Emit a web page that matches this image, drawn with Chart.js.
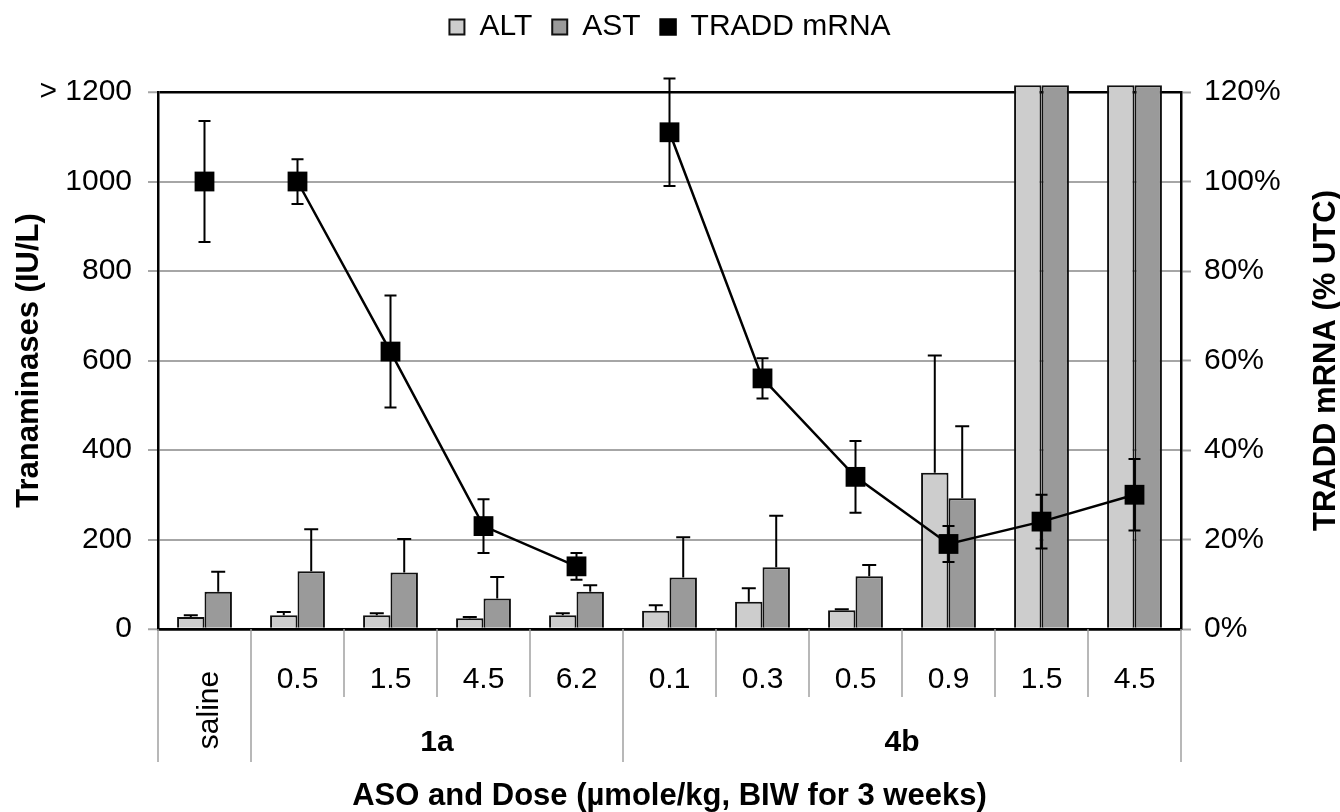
<!DOCTYPE html>
<html>
<head>
<meta charset="utf-8">
<script src="https://cdn.jsdelivr.net/npm/chart.js@4.4.1/dist/chart.umd.min.js"></script>
<style>
    html, body { margin: 0; padding: 0; background: #ffffff; }
    #wrap { width: 1340px; height: 812px; }
</style>
</head>
<body>
<div id="wrap"><canvas id="chart"></canvas></div>
<script>
// dose per column, and the ASO group each column belongs to
const doses = ["", "0.5", "1.5", "4.5", "6.2", "0.1", "0.3", "0.5", "0.9", "1.5", "4.5"];
const groups = ["saline", "1a", "1a", "1a", "1a", "4b", "4b", "4b", "4b", "4b", "4b"];

// transaminases, IU/L (1215 = off scale, shown as > 1200)
const altValues = [27, 31, 31, 24, 31, 41, 61, 42, 349, 1215, 1215];
const altErrors = [4, 7, 4, 3, 4, 12, 30, 2, 262, null, null];
const astValues = [83, 129, 126, 68, 83, 115, 138, 118, 292, 1215, 1215];
const astErrors = [45, 94, 75, 48, 15, 90, 115, 25, 161, null, null];

// TRADD mRNA, % of untreated control
const traddValues = [100, 100, 62, 23, 14, 111, 56, 34, 19, 24, 30];
const traddErrors = [13.5, 5, 12.5, 6, 3, 12, 4.5, 8, 4, 6, 8];

const leftTickLabels = ["0", "200", "400", "600", "800", "1000", "> 1200"];
const rightTickLabels = ["0%", "20%", "40%", "60%", "80%", "100%", "120%"];

const leftTitle = "Tranaminases (IU/L)";
const rightTitle = "TRADD mRNA (% UTC)";
const bottomTitle = "ASO and Dose (\u00b5mole/kg, BIW for 3 weeks)";

const FONT = "'Liberation Sans', Arial, Helvetica, sans-serif";
const GRID_COLOR = "#a6a6a6";
const SEPARATOR_COLOR = "#a0a0a0";

Chart.defaults.font.family = FONT;
Chart.defaults.color = "#000";

// error whiskers, bottom table (separators + group names), right axis title
const chartExtras = {
    id: "chartExtras",
    beforeDatasetDraw(chart, args) {
        const ds = chart.data.datasets[args.index];
        if (ds.type === "line") {
            chartExtras.drawErrors(chart, args.index, true, 6);
        }
    },
    afterDatasetDraw(chart, args) {
        const ds = chart.data.datasets[args.index];
        if (ds.type !== "line") {
            chartExtras.drawErrors(chart, args.index, false, 7);
        }
    },
    drawErrors(chart, index, bothSides, cap) {
        const ds = chart.data.datasets[index];
        const meta = chart.getDatasetMeta(index);
        const yScale = chart.scales[ds.yAxisID];
        const area = chart.chartArea;
        const ctx = chart.ctx;
        ctx.save();
        ctx.beginPath();
        ctx.rect(area.left, area.top - 16, area.right - area.left, area.bottom - area.top + 16);
        ctx.clip();
        ctx.strokeStyle = "#000";
        ctx.lineWidth = 2;
        ds.errors.forEach((err, i) => {
            if (err == null) return;
            const x = meta.data[i].x;
            const v = ds.data[i];
            const yTop = yScale.getPixelForValue(v + err);
            const yBottom = bothSides ? yScale.getPixelForValue(v - err) : yScale.getPixelForValue(v);
            ctx.beginPath();
            ctx.moveTo(x, yTop);
            ctx.lineTo(x, yBottom);
            ctx.moveTo(x - cap, yTop);
            ctx.lineTo(x + cap, yTop);
            if (bothSides) {
                ctx.moveTo(x - cap, yBottom);
                ctx.lineTo(x + cap, yBottom);
            }
            ctx.stroke();
        });
        ctx.restore();
    },
    afterDraw(chart) {
        const ctx = chart.ctx;
        const area = chart.chartArea;
        const xScale = chart.scales.x;
        const n = doses.length;
        const half = (xScale.getPixelForValue(1) - xScale.getPixelForValue(0)) / 2;

        ctx.save();
        ctx.strokeStyle = SEPARATOR_COLOR;
        ctx.lineWidth = 1.5;
        for (let i = 0; i <= n; i++) {
            const px = i === 0 ? xScale.getPixelForValue(0) - half : xScale.getPixelForValue(i - 1) + half;
            const groupEdge = i === 0 || i === n || groups[i] !== groups[i - 1];
            ctx.beginPath();
            ctx.moveTo(px, area.bottom);
            ctx.lineTo(px, area.bottom + (groupEdge ? 133 : 68));
            ctx.stroke();
        }

        // group names
        ctx.fillStyle = "#000";
        ctx.textAlign = "center";
        ctx.textBaseline = "middle";
        let start = 0;
        for (let i = 1; i <= n; i++) {
            if (i < n && groups[i] === groups[start]) continue;
            const x0 = xScale.getPixelForValue(start) - half;
            const x1 = xScale.getPixelForValue(i - 1) + half;
            const cx = (x0 + x1) / 2;
            if (i - start === 1) {
                ctx.save();
                ctx.font = "30px " + FONT;
                ctx.translate(cx + 5, area.bottom + 81);
                ctx.rotate(-Math.PI / 2);
                ctx.fillText(groups[start], 0, 0);
                ctx.restore();
            } else {
                ctx.font = "bold 30px " + FONT;
                ctx.fillText(groups[start], cx, area.bottom + 114);
            }
            start = i;
        }

        // right axis title, reading bottom to top like the left one
        ctx.font = "bold 31px " + FONT;
        ctx.translate(1326, (area.top + area.bottom) / 2);
        ctx.rotate(-Math.PI / 2);
        ctx.fillText(rightTitle, 0, 0);
        ctx.restore();
    },
};

const canvas = document.getElementById("chart");
const chart = new Chart(canvas, {
    type: "bar",
    data: {
        labels: doses,
        datasets: [
            {
                label: "ALT",
                data: altValues,
                errors: altErrors,
                yAxisID: "y",
                order: 1,
                backgroundColor: "#cdcdcd",
                borderColor: "#111",
                borderWidth: 2,
                categoryPercentage: 0.59,
                barPercentage: 1.0,
                clip: { left: 0, top: 8, right: 0, bottom: 0 },
            },
            {
                label: "AST",
                data: astValues,
                errors: astErrors,
                yAxisID: "y",
                order: 1,
                backgroundColor: "#9a9a9a",
                borderColor: "#111",
                borderWidth: 2,
                categoryPercentage: 0.59,
                barPercentage: 1.0,
                clip: { left: 0, top: 8, right: 0, bottom: 0 },
            },
            {
                type: "line",
                label: "TRADD mRNA",
                data: traddValues,
                errors: traddErrors,
                yAxisID: "y2",
                order: 0,
                borderColor: "#000",
                backgroundColor: "#000",
                borderWidth: 2.5,
                pointStyle: "rect",
                pointRadius: 14,
                pointBackgroundColor: "#000",
                pointBorderColor: "#000",
                pointBorderWidth: 0,
                segment: {
                    borderColor: (ctx) =>
                        groups[ctx.p0DataIndex] !== groups[ctx.p1DataIndex] ? "rgba(0,0,0,0)" : "#000",
                },
            },
        ],
    },
    options: {
        responsive: true,
        maintainAspectRatio: false,
        animation: false,
        layout: {
            padding: { top: -8, left: 0, right: 0, bottom: 0 },
        },
        plugins: {
            legend: {
                position: "top",
                labels: {
                    boxWidth: 15,
                    boxHeight: 15,
                    padding: 20,
                    color: "#000",
                    font: { size: 30 },
                    sort: (a, b) => a.datasetIndex - b.datasetIndex,
                },
            },
            subtitle: {
                // empty spacer between the legend and the plot
                display: true,
                text: "",
                weight: 500,
                padding: { top: 0, bottom: 0 },
                font: { size: 40, lineHeight: 1 },
            },
            tooltip: { enabled: false },
        },
        scales: {
            x: {
                type: "category",
                offset: true,
                grid: { display: false },
                border: { display: true, color: "#000", width: 2.5 },
                ticks: {
                    autoSkip: false,
                    maxRotation: 0,
                    padding: 25,
                    color: "#000",
                    font: { size: 30 },
                },
                title: {
                    display: true,
                    text: bottomTitle,
                    color: "#000",
                    padding: { top: 0, bottom: 0 },
                    font: { size: 31, weight: "bold", lineHeight: 1 },
                },
                afterFit: (scale) => { scale.height = 183; },
            },
            y: {
                type: "linear",
                position: "left",
                min: 0,
                max: 1200,
                ticks: {
                    stepSize: 200,
                    padding: 16,
                    color: "#000",
                    font: { size: 30 },
                    callback: (value, index) => leftTickLabels[index],
                },
                grid: {
                    color: (ctx) => (ctx.tick.value === 0 || ctx.tick.value === 1200 ? "#000" : GRID_COLOR),
                    lineWidth: (ctx) => (ctx.tick.value === 0 || ctx.tick.value === 1200 ? 2.5 : 2),
                    tickColor: GRID_COLOR,
                    tickLength: 10,
                    tickWidth: 2,
                },
                border: { display: true, color: "#000", width: 2.5 },
                title: {
                    display: true,
                    text: leftTitle,
                    color: "#000",
                    padding: { top: 11, bottom: 0 },
                    font: { size: 31, weight: "bold" },
                },
                afterFit: (scale) => { scale.width = 158; },
            },
            y2: {
                type: "linear",
                position: "right",
                min: 0,
                max: 120,
                ticks: {
                    stepSize: 20,
                    padding: 13,
                    color: "#000",
                    font: { size: 30 },
                    callback: (value, index) => rightTickLabels[index],
                },
                grid: {
                    drawOnChartArea: false,
                    tickColor: GRID_COLOR,
                    tickLength: 10,
                    tickWidth: 2,
                },
                border: { display: true, color: "#000", width: 2.5 },
                afterFit: (scale) => { scale.width = 159; },
            },
        },
    },
    plugins: [chartExtras],
});
</script>
</body>
</html>
